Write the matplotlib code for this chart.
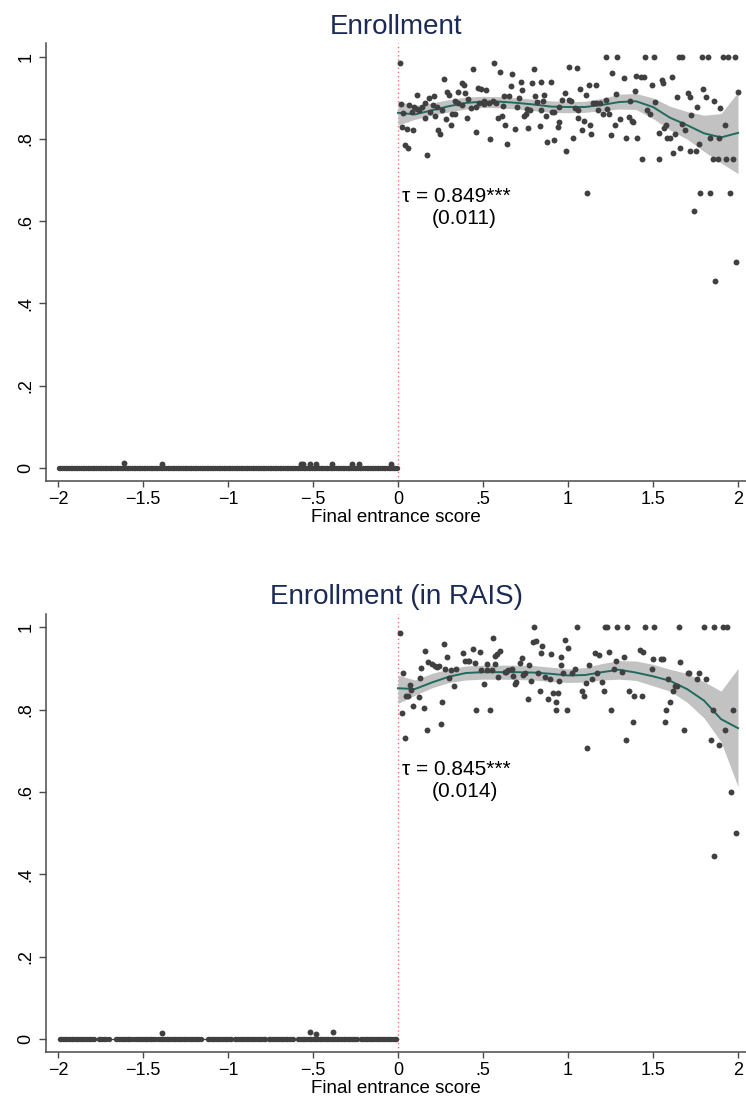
import numpy as np
import matplotlib
matplotlib.use('Agg')
import matplotlib.pyplot as plt

plt.rcParams['font.family'] = ['Liberation Sans', 'DejaVu Sans']

# ---- shared x grid for the local polynomial fits (right of cutoff)
fit_x = [0.0, 0.1, 0.2, 0.3, 0.4, 0.5, 0.6, 0.7, 0.8, 0.9, 1.0,
         1.1, 1.2, 1.3, 1.4, 1.5, 1.6, 1.7, 1.8, 1.9, 2.0]

# ---- panel 1: Enrollment
p1_fit = [0.864, 0.860, 0.870, 0.880, 0.888, 0.891, 0.891, 0.888, 0.884, 0.879, 0.878,
          0.878, 0.883, 0.890, 0.892, 0.878, 0.852, 0.834, 0.814, 0.804, 0.815]
p1_lo = [0.834, 0.848, 0.858, 0.866, 0.873, 0.877, 0.876, 0.873, 0.869, 0.865, 0.864,
         0.865, 0.869, 0.873, 0.872, 0.850, 0.822, 0.800, 0.770, 0.742, 0.716]
p1_hi = [0.892, 0.882, 0.888, 0.896, 0.902, 0.904, 0.903, 0.900, 0.897, 0.893, 0.891,
         0.892, 0.899, 0.909, 0.911, 0.900, 0.880, 0.867, 0.858, 0.862, 0.914]

p1_points = [
    (1.221, 1.0), (1.288, 1.0), (1.451, 1.0), (1.506, 1.0), (1.653, 1.0), (1.671, 1.0),
    (1.791, 1.0), (1.824, 1.0), (1.909, 1.0), (1.942, 1.0), (1.985, 1.0),
    (0.012, 0.985), (0.562, 0.985), (1.005, 0.975), (1.051, 0.972), (0.442, 0.970), (0.799, 0.970),
    (0.603, 0.963), (0.672, 0.958), (1.261, 0.961), (1.402, 0.953), (1.428, 0.950), (1.445, 0.950),
    (0.273, 0.945), (1.329, 0.948), (1.614, 0.950), (0.375, 0.936), (0.387, 0.931), (0.721, 0.938),
    (0.789, 0.936), (0.840, 0.938), (0.901, 0.938), (1.123, 0.931), (1.163, 0.931), (1.553, 0.943),
    (1.559, 0.936), (1.492, 0.931), (0.662, 0.928), (0.469, 0.925), (0.491, 0.921), (0.520, 0.920),
    (1.068, 0.923), (0.729, 0.920), (1.392, 0.918), (1.797, 0.921), (2.0, 0.914),
    (0.112, 0.908), (0.291, 0.914), (0.300, 0.908), (0.212, 0.905), (0.181, 0.899), (0.355, 0.914),
    (0.395, 0.913), (0.621, 0.905), (0.652, 0.905), (0.807, 0.905), (0.858, 0.908), (0.980, 0.913),
    (1.106, 0.907), (1.280, 0.910), (1.706, 0.913), (1.716, 0.903), (1.811, 0.903), (1.642, 0.903),
    (0.338, 0.893), (0.410, 0.898), (0.353, 0.888), (0.509, 0.892), (0.558, 0.892), (0.711, 0.900),
    (0.815, 0.891), (0.852, 0.892), (0.964, 0.896), (1.005, 0.896), (1.019, 0.893), (1.145, 0.887),
    (1.166, 0.888), (1.190, 0.888), (1.223, 0.894), (1.367, 0.892), (1.510, 0.891), (1.860, 0.892),
    (0.020, 0.885), (0.067, 0.884), (0.096, 0.879), (0.124, 0.871), (0.139, 0.879), (0.157, 0.887),
    (0.204, 0.883), (0.232, 0.879), (0.114, 0.874), (0.257, 0.871), (0.379, 0.883), (0.430, 0.875),
    (0.475, 0.888), (0.461, 0.879), (0.509, 0.885), (0.536, 0.888), (0.577, 0.887), (0.615, 0.881),
    (0.699, 0.879), (0.758, 0.873), (0.774, 0.870), (0.840, 0.870), (0.946, 0.877), (1.039, 0.876),
    (1.060, 0.870), (1.178, 0.871), (1.208, 0.860), (1.229, 0.872), (1.761, 0.877), (1.897, 0.876),
    (0.027, 0.863), (0.082, 0.865), (0.157, 0.851), (0.190, 0.866), (0.220, 0.857), (0.318, 0.861),
    (0.334, 0.861), (0.408, 0.851), (0.591, 0.851), (0.609, 0.857), (0.740, 0.856), (0.752, 0.860),
    (0.870, 0.856), (0.905, 0.867), (0.917, 0.865), (1.056, 0.852), (1.241, 0.861), (1.306, 0.848),
    (1.359, 0.854), (1.375, 0.845), (1.465, 0.870), (1.485, 0.860), (1.726, 0.859),
    (0.022, 0.830), (0.053, 0.825), (0.088, 0.821), (0.234, 0.823), (0.245, 0.813), (0.281, 0.848),
    (0.310, 0.835), (0.460, 0.818), (0.630, 0.835), (0.691, 0.824), (0.764, 0.826), (0.833, 0.831),
    (0.946, 0.841), (0.939, 0.830), (1.084, 0.821), (1.094, 0.843), (1.131, 0.834), (1.274, 0.835),
    (1.384, 0.842), (1.563, 0.826), (1.579, 0.835), (1.671, 0.837), (1.689, 0.821), (1.922, 0.835),
    (0.043, 0.786), (0.061, 0.778), (0.173, 0.762), (0.542, 0.799), (0.640, 0.789), (0.878, 0.794),
    (0.919, 0.797), (0.990, 0.771), (1.029, 0.802), (1.135, 0.813), (1.251, 0.811), (1.343, 0.802),
    (1.406, 0.802), (1.534, 0.814), (1.585, 0.803), (1.600, 0.803), (1.630, 0.812), (1.838, 0.802),
    (1.891, 0.803),
    (1.433, 0.751), (1.534, 0.751), (1.620, 0.766), (1.661, 0.779), (1.716, 0.771), (1.750, 0.771),
    (1.771, 0.788), (1.850, 0.751), (1.883, 0.751), (1.930, 0.751), (1.973, 0.751),
    (1.109, 0.668), (1.779, 0.668), (1.838, 0.668), (1.952, 0.668),
    (1.742, 0.626), (1.991, 0.500), (1.867, 0.455),
]

# left of cutoff: runs of score bins with zero enrollment, plus a few small bumps
p1_zero_runs = [(-1.995, -0.005)]
p1_bump_x = [-1.61, -1.39, -0.57, -0.56, -0.52, -0.48, -0.39, -0.27, -0.23, -0.04]
p1_bump_y = [0.012, 0.010, 0.010, 0.010, 0.010, 0.010, 0.010, 0.010, 0.010, 0.010]

# ---- panel 2: Enrollment (in RAIS)
p2_fit = [0.852, 0.850, 0.866, 0.880, 0.889, 0.891, 0.891, 0.891, 0.890, 0.887, 0.883,
          0.884, 0.891, 0.897, 0.890, 0.881, 0.870, 0.850, 0.822, 0.777, 0.755]
p2_lo = [0.815, 0.835, 0.853, 0.866, 0.872, 0.874, 0.874, 0.873, 0.872, 0.868, 0.866,
         0.867, 0.872, 0.874, 0.871, 0.858, 0.845, 0.818, 0.780, 0.722, 0.613]
p2_hi = [0.884, 0.872, 0.888, 0.899, 0.906, 0.908, 0.908, 0.908, 0.907, 0.903, 0.899,
         0.902, 0.912, 0.919, 0.918, 0.910, 0.898, 0.888, 0.868, 0.845, 0.900]

p2_points = [
    (0.799, 1.0), (1.051, 1.0), (1.215, 1.0), (1.229, 1.0), (1.288, 1.0), (1.347, 1.0),
    (1.451, 1.0), (1.506, 1.0), (1.653, 1.0), (1.799, 1.0), (1.860, 1.0), (1.909, 1.0), (1.938, 1.0),
    (0.012, 0.985),
    (0.793, 0.965), (0.809, 0.967), (0.558, 0.973), (0.271, 0.960), (0.848, 0.955), (0.980, 0.968),
    (1.000, 0.949),
    (0.161, 0.942), (0.381, 0.937), (0.442, 0.947), (0.481, 0.940), (0.840, 0.937), (0.901, 0.934),
    (1.161, 0.937), (1.182, 0.933), (1.239, 0.940), (1.422, 0.944), (1.443, 0.939),
    (0.179, 0.915), (0.200, 0.911), (0.216, 0.905), (0.232, 0.903), (0.243, 0.906), (0.291, 0.927),
    (0.397, 0.917), (0.410, 0.919), (0.420, 0.917), (0.452, 0.913), (0.727, 0.925), (0.715, 0.913),
    (0.569, 0.931), (0.601, 0.942), (0.583, 0.934), (0.958, 0.929), (1.331, 0.929), (1.280, 0.919),
    (1.500, 0.922), (1.549, 0.922), (1.561, 0.922), (1.661, 0.915),
    (0.029, 0.888), (0.137, 0.900), (0.279, 0.899), (0.310, 0.897), (0.342, 0.899), (0.491, 0.896),
    (0.524, 0.910), (0.569, 0.910), (0.526, 0.896), (0.554, 0.896), (0.630, 0.892), (0.648, 0.896),
    (0.668, 0.899), (0.772, 0.909), (0.958, 0.909), (1.041, 0.899), (1.121, 0.908), (1.272, 0.899),
    (1.492, 0.899),
    (0.302, 0.876), (0.591, 0.879), (0.636, 0.891), (0.679, 0.882), (0.734, 0.884), (0.746, 0.890),
    (0.821, 0.888), (0.864, 0.879), (0.892, 0.874), (0.950, 0.870), (0.972, 0.888), (1.023, 0.888),
    (1.104, 0.864), (1.139, 0.874), (1.170, 0.888), (1.200, 0.866), (1.316, 0.892), (1.704, 0.888),
    (1.712, 0.888), (1.773, 0.888), (1.761, 0.874), (1.811, 0.874), (1.591, 0.874),
    (0.069, 0.859), (0.079, 0.847), (0.045, 0.832), (0.061, 0.832), (0.090, 0.810), (0.122, 0.830),
    (0.151, 0.803), (0.022, 0.793), (0.171, 0.750), (0.041, 0.730), (0.251, 0.764), (0.261, 0.818),
    (0.132, 0.876), (0.332, 0.857),
    (0.689, 0.863), (0.697, 0.868), (0.782, 0.870), (0.911, 0.841), (0.927, 0.819), (0.939, 0.840),
    (0.833, 0.845), (0.882, 0.827), (0.762, 0.825), (0.507, 0.862), (1.080, 0.845), (1.092, 0.832),
    (1.210, 0.845), (1.361, 0.845), (1.390, 0.832), (1.433, 0.832), (1.628, 0.857), (1.618, 0.845),
    (1.644, 0.857),
    (0.460, 0.799), (0.542, 0.799), (0.931, 0.799), (0.992, 0.799), (1.251, 0.799), (1.602, 0.818),
    (1.579, 0.799), (1.850, 0.799), (1.968, 0.799),
    (1.380, 0.769), (1.571, 0.769), (1.681, 0.750), (1.922, 0.750),
    (1.109, 0.706), (1.339, 0.726), (1.840, 0.726), (1.891, 0.713),
    (1.958, 0.599), (1.991, 0.500), (1.860, 0.445),
]

p2_zero_runs = [(-1.99, -1.79), (-1.76, -1.72), (-1.70, -1.70), (-1.66, -1.57), (-1.55, -1.43),
                (-1.41, -1.28), (-1.27, -1.16), (-1.12, -0.98), (-0.96, -0.78), (-0.76, -0.62),
                (-0.59, -0.24), (-0.22, -0.01)]
p2_bump_x = [-1.39, -0.52, -0.48, -0.384]
p2_bump_y = [0.015, 0.017, 0.013, 0.017]

x_ticks = [-2, -1.5, -1, -0.5, 0, 0.5, 1, 1.5, 2]
x_ticklabels = ['\u22122', '\u22121.5', '\u22121', '\u2212.5', '0', '.5', '1', '1.5', '2']
y_ticks = [0, 0.2, 0.4, 0.6, 0.8, 1]
y_ticklabels = ['0', '.2', '.4', '.6', '.8', '1']

DOT = '#404040'
AXC = '#4a4a4a'


def expand_runs(runs, step=0.01):
    return np.concatenate([np.arange(a, b + 1e-9, step) for a, b in runs])


def draw_panel(ax, title, points, fit, lo, hi, zero_runs, bump_x, bump_y, tau, se, tau_y, se_y):
    zx = expand_runs(zero_runs)
    ax.plot([-2, 0], [0, 0], color='#1a476f', lw=0.9, zorder=1)
    ax.scatter(zx, np.zeros_like(zx), s=15, color=DOT, linewidths=0, zorder=3)
    ax.scatter(bump_x, bump_y, s=18, color=DOT, linewidths=0, zorder=3)

    ax.fill_between(fit_x, lo, hi, color='#c2c2c2', linewidth=0, zorder=1)
    ax.plot(fit_x, fit, color='#1f6b5f', lw=1.4, zorder=2)
    px, py = zip(*points)
    ax.scatter(px, py, s=18, color=DOT, linewidths=0, zorder=3)

    ax.axvline(0, color='#ff6b6b', lw=1.0, ls=(0, (1, 2)), zorder=0)

    ax.text(0.022, tau_y, '\u03c4 = ' + tau + '***', fontsize=15, ha='left', va='baseline')
    ax.text(0.20, se_y, '(' + se + ')', fontsize=15, ha='left', va='baseline')

    ax.set_xlim(-2.07, 2.047)
    ax.set_ylim(-0.032, 1.033)
    ax.set_xticks(x_ticks)
    ax.set_xticklabels(x_ticklabels)
    ax.set_yticks(y_ticks)
    ax.set_yticklabels(y_ticklabels, rotation=90, va='center')
    ax.tick_params(axis='x', length=4.5, width=1, color=AXC, labelsize=13, pad=2.5)
    ax.tick_params(axis='y', length=5, width=1, color=AXC, labelsize=13, pad=3.5)
    for side in ['top', 'right']:
        ax.spines[side].set_visible(False)
    for side in ['left', 'bottom']:
        ax.spines[side].set_color(AXC)
        ax.spines[side].set_linewidth(1.1)
    ax.set_xlabel('Final entrance score', fontsize=13.5, labelpad=1)
    ax.set_title(title, fontsize=20, color='#1c2b56', pad=7)


fig = plt.figure(figsize=(7.46, 11.06), dpi=100, facecolor='white')
ax1 = fig.add_axes([46 / 746, 1 - 481 / 1106, 700 / 746, (481 - 43.3) / 1106])
ax2 = fig.add_axes([46 / 746, 1 - 1052.2 / 1106, 700 / 746, (1052.2 - 613.7) / 1106])

draw_panel(ax1, 'Enrollment', p1_points, p1_fit, p1_lo, p1_hi,
           p1_zero_runs, p1_bump_x, p1_bump_y, '0.849', '0.011', 0.646, 0.593)
draw_panel(ax2, 'Enrollment (in RAIS)', p2_points, p2_fit, p2_lo, p2_hi,
           p2_zero_runs, p2_bump_x, p2_bump_y, '0.845', '0.014', 0.641, 0.589)

fig.savefig('out.png', dpi=100, facecolor='white')
plt.close(fig)
